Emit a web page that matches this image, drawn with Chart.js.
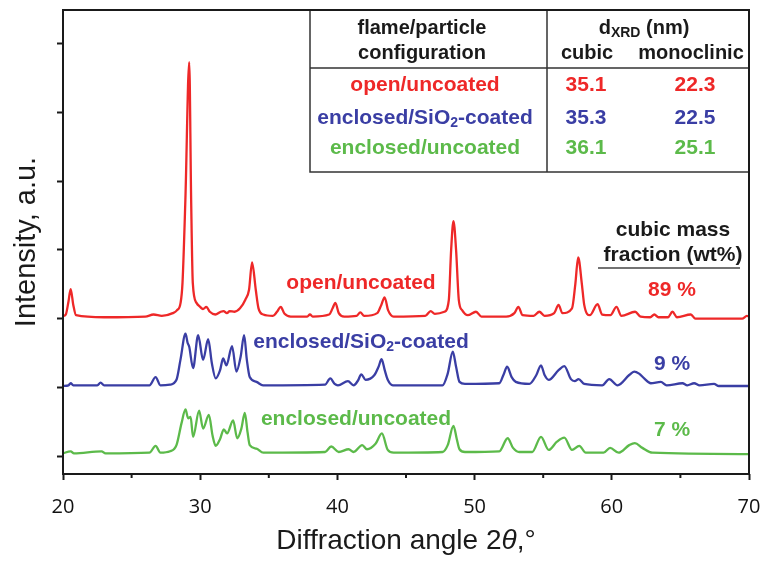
<!DOCTYPE html>
<html>
<head>
<meta charset="utf-8">
<script src="https://cdn.jsdelivr.net/npm/chart.js@4.4.1/dist/chart.umd.min.js"></script>
<style>
  html, body { margin: 0; padding: 0; background: #fff; }
  #wrap { width: 763px; height: 566px; }
</style>
</head>
<body>
<div id="wrap"><canvas id="xrdChart" width="763" height="566"></canvas></div>
<script>
// 2theta (deg) and stacked intensity (offset baseline: red 2, blue 1, green 0)
const redAngle = [20.0, 20.2, 20.4, 20.56, 20.75, 20.95, 23.0, 26.0, 26.6, 27.2,
  28.0, 28.3, 28.57, 28.71, 28.92, 29.2, 29.34, 29.46, 29.73, 30.0,
  30.2, 30.45, 30.7, 31.1, 31.5, 31.7, 31.95, 32.15, 32.5, 32.9,
  33.3, 33.56, 33.78, 34.05, 34.25, 34.6, 35.3, 35.6, 35.87, 36.15,
  36.6, 37.8, 38.0, 38.2, 39.4, 39.65, 39.85, 40.1, 40.5, 41.4,
  41.67, 41.95, 42.9, 43.2, 43.44, 43.7, 44.1, 46.4, 46.8, 47.1,
  47.8, 48.12, 48.29, 48.46, 48.65, 48.85, 49.1, 49.5, 50.1, 50.5,
  52.3, 52.9, 53.19, 53.5, 54.3, 54.72, 55.1, 55.8, 56.12, 56.4,
  57.1, 57.34, 57.55, 57.82, 57.99, 58.4, 58.96, 59.3, 59.9, 60.34,
  60.7, 61.7, 62.1, 62.8, 63.1, 63.4, 64.1, 64.42, 64.75, 65.76,
  66.1, 69.5, 69.85, 70.0];
const redInt = [2.04, 2.06, 2.25, 2.43, 2.2, 2.05, 2.02, 2.03, 2.06, 2.04,
  2.08, 2.12, 2.23, 2.52, 3.73, 5.73, 3.73, 2.52, 2.23, 2.17,
  2.14, 2.17, 2.1, 2.06, 2.1, 2.11, 2.08, 2.11, 2.1, 2.15,
  2.28, 2.42, 2.82, 2.42, 2.15, 2.06, 2.04, 2.1, 2.17, 2.07,
  2.03, 2.03, 2.06, 2.03, 2.06, 2.15, 2.23, 2.08, 2.03, 2.04,
  2.09, 2.04, 2.08, 2.2, 2.31, 2.12, 2.03, 2.04, 2.11, 2.07,
  2.1, 2.27, 3.0, 3.42, 3.0, 2.27, 2.12, 2.05, 2.1, 2.03,
  2.03, 2.08, 2.17, 2.05, 2.04, 2.1, 2.04, 2.08, 2.2, 2.08,
  2.15, 2.5, 2.89, 2.5, 2.2, 2.05, 2.21, 2.06, 2.05, 2.17,
  2.04, 2.1, 2.03, 2.02, 2.06, 2.02, 2.02, 2.1, 2.02, 2.06,
  2.0, 2.0, 2.04, 2.03];

const blueAngle = [20.0, 20.4, 20.56, 20.75, 22.5, 22.74, 23.0, 26.3, 26.75, 27.1,
  27.8, 28.27, 28.56, 28.93, 29.08, 29.2, 29.48, 29.85, 30.21, 30.58,
  30.85, 31.13, 31.45, 31.67, 31.91, 32.32, 32.64, 32.95, 33.2, 33.4,
  33.61, 34.1, 34.58, 39.1, 39.48, 39.8, 40.04, 40.77, 41.18, 41.5,
  41.74, 42.05, 42.7, 43.0, 43.22, 43.45, 43.67, 44.04, 47.66, 48.04,
  48.41, 48.65, 48.9, 49.3, 51.8, 52.1, 52.37, 52.7, 53.0, 53.99,
  54.5, 54.84, 55.1, 55.4, 56.12, 56.54, 57.02, 57.3, 57.58, 57.99,
  59.3, 59.81, 60.42, 61.27, 61.63, 61.99, 62.36, 62.84, 63.57, 64.0,
  65.15, 65.5, 66.0, 66.4, 67.45, 67.8, 70.0];
const blueInt = [1.02, 1.03, 1.06, 1.03, 1.03, 1.07, 1.03, 1.03, 1.15, 1.03,
  1.04, 1.11, 1.40, 1.78, 1.65, 1.59, 1.28, 1.76, 1.40, 1.70,
  1.35, 1.13, 1.25, 1.42, 1.32, 1.60, 1.23, 1.45, 1.76, 1.40,
  1.15, 1.08, 1.03, 1.04, 1.13, 1.05, 1.03, 1.09, 1.03, 1.10,
  1.19, 1.11, 1.18, 1.30, 1.41, 1.25, 1.11, 1.03, 1.03, 1.20,
  1.52, 1.30, 1.08, 1.05, 1.06, 1.18, 1.30, 1.15, 1.08, 1.05,
  1.18, 1.32, 1.18, 1.11, 1.25, 1.31, 1.12, 1.09, 1.12, 1.05,
  1.03, 1.12, 1.03, 1.18, 1.23, 1.20, 1.13, 1.06, 1.08, 1.03,
  1.06, 1.03, 1.06, 1.03, 1.05, 1.02, 1.02];

const greenAngle = [20.0, 20.56, 20.8, 22.81, 23.1, 26.3, 26.75, 27.1, 27.8, 28.27,
  28.64, 28.93, 29.12, 29.3, 29.48, 29.92, 30.21, 30.63, 30.9, 31.13,
  31.45, 31.72, 31.96, 32.4, 32.7, 33.0, 33.25, 33.45, 33.61, 34.1,
  34.6, 39.1, 39.55, 40.1, 40.82, 41.18, 41.81, 42.16, 42.78, 43.24,
  43.67, 44.1, 47.66, 48.04, 48.46, 48.7, 48.9, 49.3, 51.8, 52.41,
  52.8, 53.26, 54.2, 54.84, 55.4, 56.0, 56.54, 57.1, 57.63, 58.1,
  59.4, 59.88, 60.5, 61.27, 61.68, 62.23, 62.96, 70.0];
const greenInt = [0.04, 0.07, 0.04, 0.07, 0.04, 0.05, 0.15, 0.05, 0.07, 0.16,
  0.48, 0.68, 0.55, 0.57, 0.28, 0.66, 0.40, 0.60, 0.30, 0.15,
  0.25, 0.39, 0.33, 0.52, 0.26, 0.40, 0.63, 0.35, 0.16, 0.11,
  0.05, 0.06, 0.14, 0.06, 0.10, 0.06, 0.16, 0.10, 0.18, 0.33,
  0.09, 0.05, 0.06, 0.16, 0.44, 0.25, 0.10, 0.06, 0.07, 0.26,
  0.12, 0.06, 0.06, 0.28, 0.09, 0.21, 0.27, 0.09, 0.15, 0.05,
  0.05, 0.12, 0.05, 0.16, 0.19, 0.12, 0.05, 0.03];

const xTicksMajor = [20, 30, 40, 50, 60, 70];
const xTicksMinor = [25, 35, 45, 55, 65];
const yTicks = [0, 1, 2, 3, 4, 5, 6];

// inset table + labels ("_" marks a subscript)
const seriesNames = ['open/uncoated', 'enclosed/SiO_2-coated', 'enclosed/uncoated'];
const cubicSize = ['35.1', '35.3', '36.1'];
const monoSize = ['22.3', '22.5', '25.1'];
const cubicFraction = ['89 %', '9 %', '7 %'];

const colors = ['#ee2828', '#3a3ea4', '#5cba4a'];
const ink = '#1a1a1a';

function toPoints(xs, ys) {
    return xs.map((x, i) => ({ x: x, y: ys[i] }));
}

// draws text with _sub and *italic* runs, centred on (cx, cy)
function drawRich(ctx, text, cx, cy, size, weight, color) {
    const parts = [];
    text.split(/(_\w+|\*[^*]+\*)/).forEach(p => {
        if (!p) return;
        if (p[0] === '_') parts.push({ t: p.slice(1), sub: true });
        else if (p[0] === '*') parts.push({ t: p.slice(1, -1), it: true });
        else parts.push({ t: p });
    });
    const fam = '"Liberation Sans", Arial, sans-serif';
    const fontOf = p => (p.it ? 'italic ' : '') + weight + ' ' + Math.round(p.sub ? size * 0.68 : size) + 'px ' + fam;
    let total = 0;
    parts.forEach(p => { ctx.font = fontOf(p); p.w = ctx.measureText(p.t).width; total += p.w; });
    let x = cx - total / 2;
    ctx.fillStyle = color;
    ctx.textAlign = 'left';
    ctx.textBaseline = 'middle';
    parts.forEach(p => {
        ctx.font = fontOf(p);
        ctx.fillText(p.t, x, p.sub ? cy + size * 0.24 : cy);
        x += p.w;
    });
}

const decor = {
    id: 'decor',
    afterDraw(chart) {
        const { ctx, chartArea: a, scales: { x } } = chart;
        ctx.save();

        // minor x ticks
        ctx.strokeStyle = ink;
        ctx.lineWidth = 2;
        xTicksMinor.forEach(v => {
            const px = x.getPixelForValue(v);
            ctx.beginPath();
            ctx.moveTo(px, a.bottom);
            ctx.lineTo(px, a.bottom + 4);
            ctx.stroke();
        });

        // x axis title with italic theta
        drawRich(ctx, 'Diffraction angle 2*θ*,°', (a.left + a.right) / 2, 541, 28, 'normal', ink);

        // inset table
        const tl = 310, tr = a.right, tt = a.top, tb = 172, hb = 68, dv = 547;
        ctx.fillStyle = '#fff';
        ctx.fillRect(tl, tt, tr - tl, tb - tt);
        ctx.strokeStyle = '#333';
        ctx.lineWidth = 1.5;
        ctx.strokeRect(tl, tt, tr - tl, tb - tt);
        ctx.beginPath();
        ctx.moveTo(tl, hb); ctx.lineTo(tr, hb);
        ctx.moveTo(dv, tt); ctx.lineTo(dv, tb);
        ctx.stroke();

        drawRich(ctx, 'flame/particle', 422, 28, 20, 'bold', ink);
        drawRich(ctx, 'configuration', 422, 53, 20, 'bold', ink);
        drawRich(ctx, 'd_XRD (nm)', 644, 28, 20, 'bold', ink);
        drawRich(ctx, 'cubic', 587, 53, 20, 'bold', ink);
        drawRich(ctx, 'monoclinic', 691, 53, 20, 'bold', ink);

        const rowY = [85, 118, 148];
        seriesNames.forEach((name, i) => {
            drawRich(ctx, name, 425, rowY[i], 21, 'bold', colors[i]);
            drawRich(ctx, cubicSize[i], 586, rowY[i], 21, 'bold', colors[i]);
            drawRich(ctx, monoSize[i], 695, rowY[i], 21, 'bold', colors[i]);
        });

        // curve labels
        const labelPos = [[361, 283], [361, 342], [356, 419]];
        seriesNames.forEach((name, i) => {
            drawRich(ctx, name, labelPos[i][0], labelPos[i][1], 21, 'bold', colors[i]);
        });

        // mass fraction column
        drawRich(ctx, 'cubic mass', 673, 230, 21, 'bold', ink);
        drawRich(ctx, 'fraction (wt%)', 673, 255, 21, 'bold', ink);
        ctx.strokeStyle = '#444';
        ctx.lineWidth = 1.5;
        ctx.beginPath();
        ctx.moveTo(598, 268); ctx.lineTo(740, 268);
        ctx.stroke();
        const fracY = [290, 364, 430];
        cubicFraction.forEach((t, i) => drawRich(ctx, t, 672, fracY[i], 21, 'bold', colors[i]));

        // plot frame
        ctx.strokeStyle = ink;
        ctx.lineWidth = 2;
        ctx.strokeRect(a.left, a.top, a.right - a.left, a.bottom - a.top);
        ctx.restore();
    }
};

const ctx = document.getElementById('xrdChart').getContext('2d');
const lineStyle = {
    borderWidth: 2.3,
    pointRadius: 0,
    fill: false,
    cubicInterpolationMode: 'monotone'
};

new Chart(ctx, {
    type: 'line',
    data: {
        datasets: [
            Object.assign({ label: seriesNames[0], data: toPoints(redAngle, redInt), borderColor: colors[0] }, lineStyle),
            Object.assign({ label: seriesNames[1], data: toPoints(blueAngle, blueInt), borderColor: colors[1] }, lineStyle),
            Object.assign({ label: seriesNames[2], data: toPoints(greenAngle, greenInt), borderColor: colors[2] }, lineStyle)
        ]
    },
    options: {
        responsive: false,
        animation: false,
        devicePixelRatio: 1,
        layout: { padding: { left: 0, right: 14, top: 10, bottom: 0 } },
        plugins: {
            legend: { display: false },
            tooltip: { enabled: false }
        },
        scales: {
            x: {
                type: 'linear',
                min: 20,
                max: 70,
                afterBuildTicks: s => { s.ticks = xTicksMajor.map(v => ({ value: v })); },
                afterFit: s => { s.height = 92; s.paddingLeft = 0; s.paddingRight = 0; },
                border: { display: false },
                grid: { drawOnChartArea: false, drawTicks: true, tickLength: 6, tickWidth: 2, tickColor: ink },
                ticks: {
                    font: { family: 'Open Sans', size: 20 },
                    color: '#111',
                    padding: 15,
                    maxRotation: 0
                }
            },
            y: {
                type: 'linear',
                min: -0.26,
                max: 6.49,
                afterBuildTicks: s => { s.ticks = yTicks.map(v => ({ value: v })); },
                afterFit: s => { s.width = 63; },
                border: { display: false },
                grid: { drawOnChartArea: false, drawTicks: true, tickLength: 6, tickWidth: 2, tickColor: ink },
                ticks: { display: false },
                title: {
                    display: true,
                    text: 'Intensity, a.u.',
                    color: ink,
                    font: { family: 'Liberation Sans', size: 29 },
                    padding: { top: 10, bottom: 0 }
                }
            }
        }
    },
    plugins: [decor]
});
</script>
</body>
</html>
